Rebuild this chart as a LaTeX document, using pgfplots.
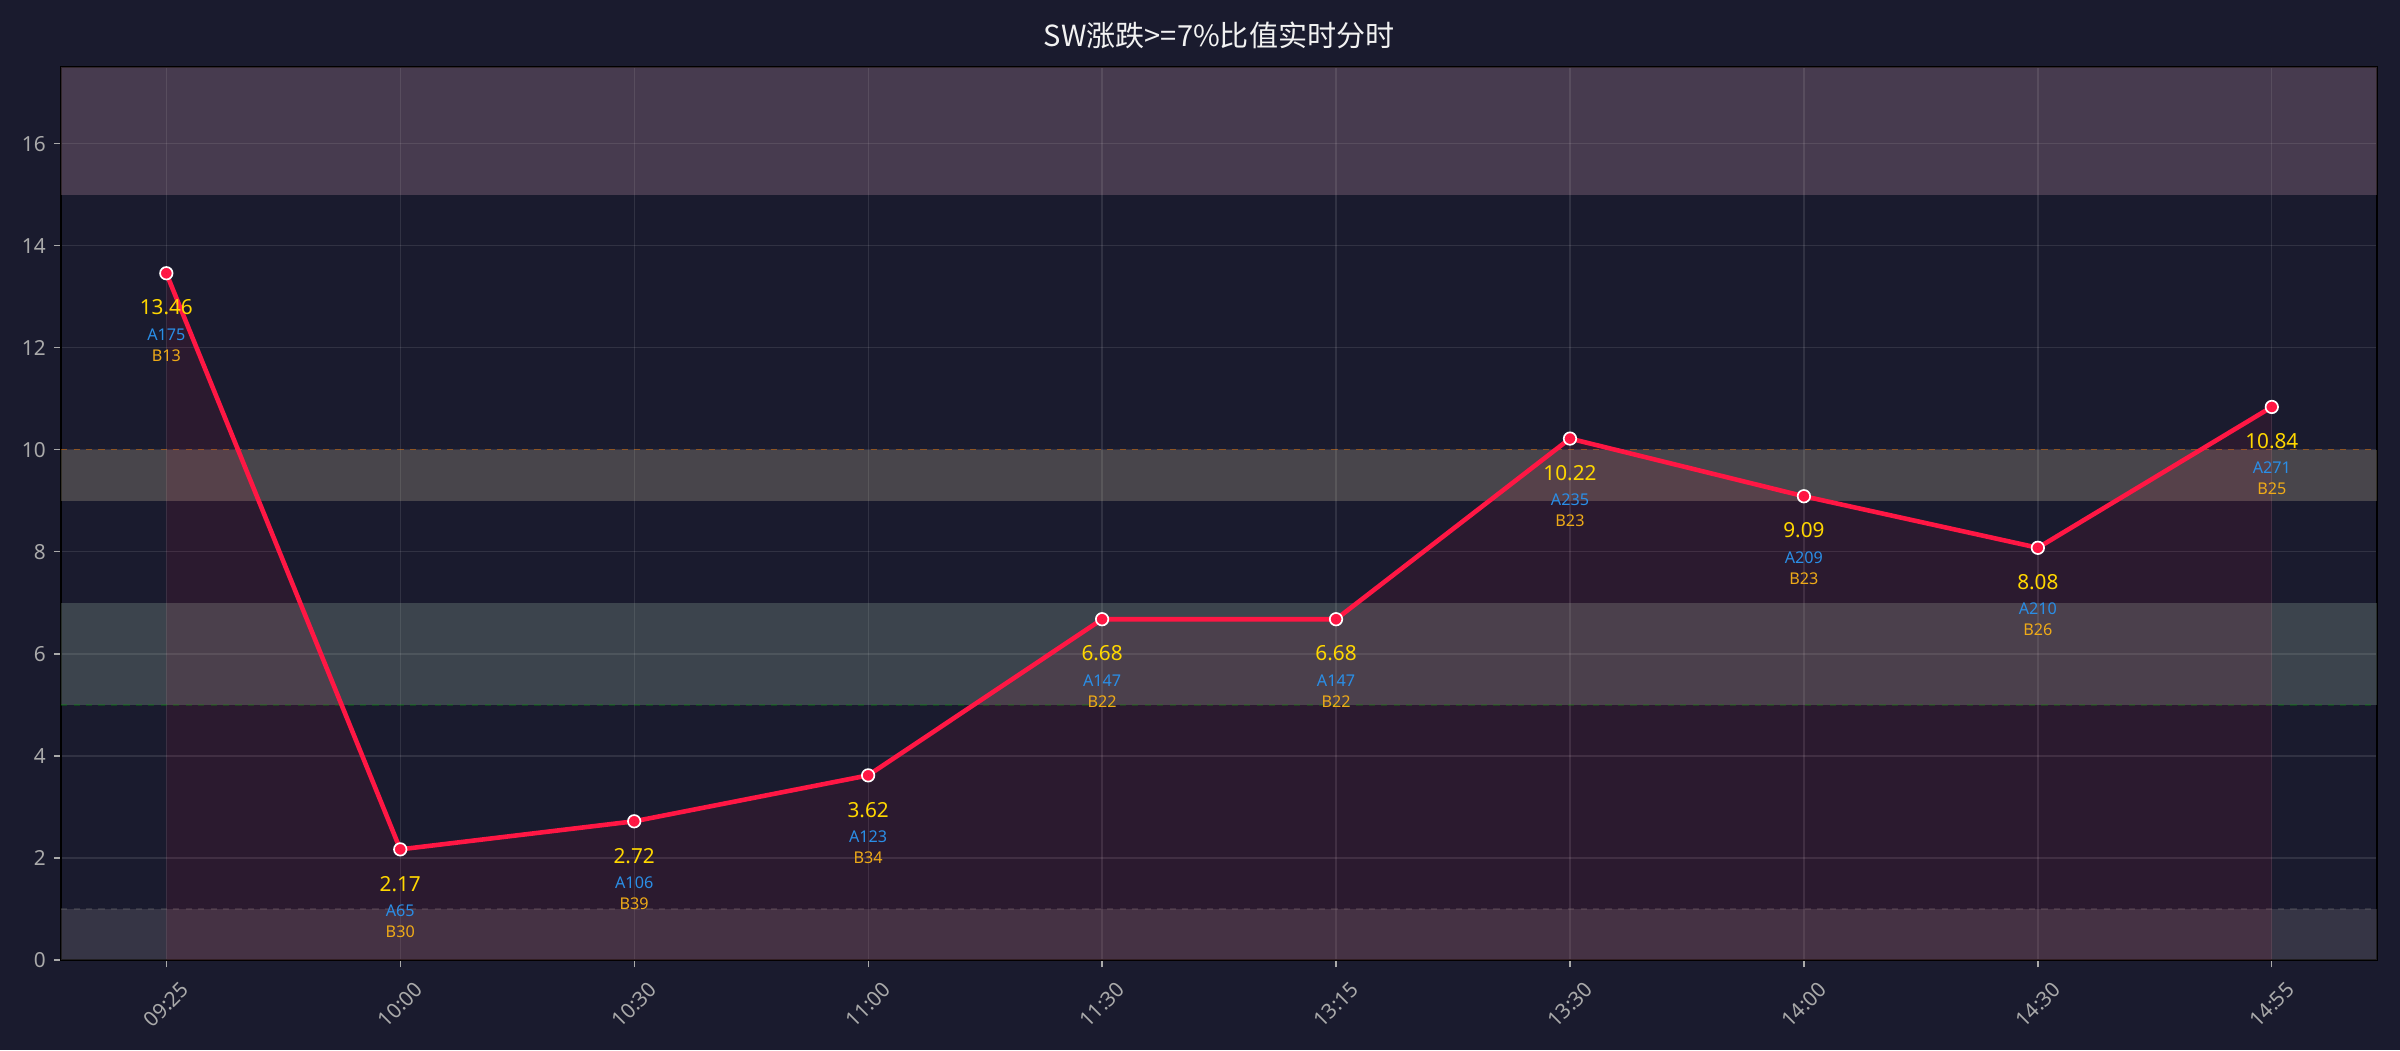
\documentclass[border=0pt]{standalone}
\usepackage{fontspec}
\setmainfont{Noto Sans}
\newfontfamily\cjk{Noto Sans CJK SC}
\usepackage{pgfplots}
\pgfplotsset{compat=1.18}
\usepackage{pgfplotstable}
\usetikzlibrary{backgrounds,calc}
\definecolor{bgc}{HTML}{1A1B2E}
\definecolor{linec}{HTML}{FF1744}
\definecolor{bandtop}{HTML}{CE9EB2}
\definecolor{bandnine}{HTML}{D4C6A2}
\definecolor{bandfive}{HTML}{A2BFAA}
\definecolor{bandzero}{HTML}{8A838A}
\definecolor{tickc}{HTML}{AAAAAA}
\definecolor{valc}{HTML}{FFD700}
\definecolor{ac}{HTML}{2A8EE6}
\definecolor{bc}{HTML}{EEAA18}
\definecolor{titlec}{HTML}{F2F2F2}

\pgfplotstableread{
x y a b
0 13.46 A175 B13
1 2.17 A65 B30
2 2.72 A106 B39
3 3.62 A123 B34
4 6.68 A147 B22
5 6.68 A147 B22
6 10.22 A235 B23
7 9.09 A209 B23
8 8.08 A210 B26
9 10.84 A271 B25
}\data

\begin{document}
\begin{tikzpicture}
\begin{axis}[
  name=ax, at={(0,0)}, anchor=south west,
  scale only axis, width=1111.7bp, height=428.6bp,
  xmin=-0.45, xmax=9.45, ymin=0, ymax=17.5,
  xtick={0,...,9},
  xticklabels={09:25,10:00,10:30,11:00,11:30,13:15,13:30,14:00,14:30,14:55},
  ytick={0,2,...,16},
  axis background/.style={fill=bgc},
  axis line style={black, line width=1bp},
  grid=major,
  major grid style={white, opacity=0.1, line width=0.6bp},
  tick align=outside, major tick length=3.5bp,
  tick pos=left,
  tick style={color=tickc, line width=0.6bp},
  ticklabel style={font=\fontsize{10}{12}\selectfont, text=tickc},
  /pgf/number format/assume math mode=true,
  xticklabel style={rotate=45, anchor=center, inner sep=0pt, xshift=-12.7bp, yshift=-12.7bp},
  yticklabel style={anchor=east, inner sep=0pt, xshift=-3.7bp},
  clip=true,
]
% reference bands
\addplot[draw=none, fill=bandtop, fill opacity=0.25] coordinates {(-0.45,15) (9.45,15) (9.45,17.5) (-0.45,17.5)} -- cycle;
\addplot[draw=none, fill=bandnine, fill opacity=0.25] coordinates {(-0.45,9) (9.45,9) (9.45,10) (-0.45,10)} -- cycle;
\addplot[draw=none, fill=bandfive, fill opacity=0.25] coordinates {(-0.45,5) (9.45,5) (9.45,7) (-0.45,7)} -- cycle;
\addplot[draw=none, fill=bandzero, fill opacity=0.25] coordinates {(-0.45,0) (9.45,0) (9.45,1) (-0.45,1)} -- cycle;
% threshold lines
\addplot[draw=orange, opacity=0.45, dashed, line width=0.6bp] coordinates {(-0.45,10) (9.45,10)};
\addplot[draw=green!60!black, opacity=0.3, dashed, line width=0.6bp] coordinates {(-0.45,5) (9.45,5)};
\addplot[draw=gray, opacity=0.25, dashed, line width=0.6bp] coordinates {(-0.45,1) (9.45,1)};
% area under line
\addplot[draw=none, fill=linec, fill opacity=0.08] table[x=x, y=y] {\data} \closedcycle;
% main line
\addplot[color=linec, line width=2.2bp, mark=*, mark size=3.0bp,
  mark options={fill=linec, draw=white, line width=0.8bp}] table[x=x, y=y] {\data};
% labels
\addplot[draw=none, mark=*, mark size=0pt, mark options={draw=none, fill=none},
  point meta=explicit symbolic, nodes near coords,
  every node near coord/.append style={anchor=center, inner sep=0pt, yshift=-16.5bp, text=valc, font=\fontsize{10}{12}\selectfont}]
  table[x=x, y=y, meta=y] {\data};
\addplot[draw=none, mark=*, mark size=0pt, mark options={draw=none, fill=none},
  point meta=explicit symbolic, nodes near coords,
  every node near coord/.append style={anchor=center, inner sep=0pt, yshift=-29.3bp, text=ac, font=\fontsize{7.8}{9}\selectfont}]
  table[x=x, y=y, meta=a] {\data};
\addplot[draw=none, mark=*, mark size=0pt, mark options={draw=none, fill=none},
  point meta=explicit symbolic, nodes near coords,
  every node near coord/.append style={anchor=center, inner sep=0pt, yshift=-39.4bp, text=bc, font=\fontsize{7.8}{9}\selectfont}]
  table[x=x, y=y, meta=b] {\data};
\end{axis}
\node[font=\cjk\fontsize{14}{16}\selectfont, text=titlec] at ($(ax.north)+(0,15bp)$) {SW涨跌>=7\%比值实时分时};
\begin{scope}[on background layer]
\fill[bgc] ($(ax.south west)+(-29.3bp,-43.2bp)$) rectangle ($(ax.north east)+(11bp,32.2bp)$);
\end{scope}
\pgfresetboundingbox
\path[use as bounding box] ($(ax.south west)+(-29.3bp,-43.2bp)$) rectangle ($(ax.north east)+(11bp,32.2bp)$);
\end{tikzpicture}
\end{document}
